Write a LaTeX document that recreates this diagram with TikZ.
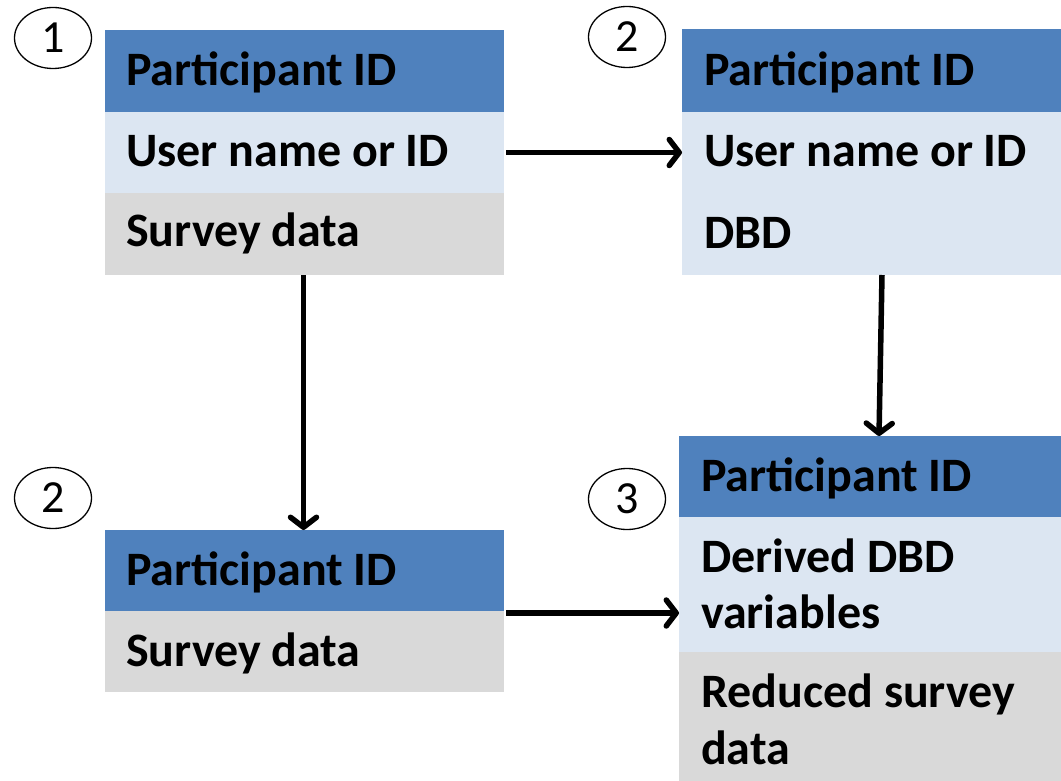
\documentclass[tikz,border=0pt]{standalone}
\usepackage{fontspec}
\setmainfont{Carlito}
\usetikzlibrary{arrows.meta,shapes.geometric}
\definecolor{hdr}{HTML}{4F81BD}
\definecolor{lite}{HTML}{DCE6F2}
\definecolor{greyrow}{HTML}{D9D9D9}

\begin{document}
\begin{tikzpicture}[x=1pt,y=-1pt,
  cell/.style={anchor=north west, inner sep=0pt, outer sep=0pt},
  txt/.style={anchor=base west, inner sep=0pt, font=\fontsize{48}{56}\selectfont\bfseries},
  num/.style={draw, ellipse, line width=1.3pt, minimum width=77pt, minimum height=61pt,
              inner sep=0pt, font=\fontsize{46}{52}\selectfont},
  flow/.style={line width=5.5pt,
              -{Straight Barb[length=10pt,width=26pt,line cap=round,line join=round]}}]
\useasboundingbox (0,0) rectangle (1061,781);

% table 1 (top left)
\node[cell, fill=hdr, minimum width=399pt, minimum height=82pt] (a1) at (105,30) {};
\node[cell, fill=lite, minimum width=399pt, minimum height=81pt] (a2) at (105,112) {};
\node[cell, fill=greyrow, minimum width=399pt, minimum height=82pt] (a3) at (105,193) {};
\node[txt] (ta1) at (126,86) {Participant ID};
\node[txt] (ta2) at (126,167) {User name or ID};
\node[txt] (ta3) at (126,247) {Survey data};

% table 2 (top right)
\node[cell, fill=hdr, minimum width=379pt, minimum height=83pt] (b1) at (682,29) {};
\node[cell, fill=lite, minimum width=379pt, minimum height=163pt] (b2) at (682,112) {};
\node[txt] (tb1) at (704,86) {Participant ID};
\node[txt] (tb2) at (704,167) {User name or ID};
\node[txt] (tb3) at (704,248) {DBD};

% table 2 (bottom left)
\node[cell, fill=hdr, minimum width=399pt, minimum height=81pt] (c1) at (105,530) {};
\node[cell, fill=greyrow, minimum width=399pt, minimum height=81pt] (c2) at (105,611) {};
\node[txt] (tc1) at (126,585) {Participant ID};
\node[txt] (tc2) at (126,666) {Survey data};

% table 3 (bottom right)
\node[cell, fill=hdr, minimum width=382pt, minimum height=81pt] (d1) at (679,436) {};
\node[cell, fill=lite, minimum width=382pt, minimum height=135pt] (d2) at (679,517) {};
\node[cell, fill=greyrow, minimum width=382pt, minimum height=130pt] (d3) at (679,652) {};
\node[txt] (td1) at (701,491) {Participant ID};
\node[txt] (td2) at (701,572) {Derived DBD};
\node[txt] (td3) at (701,628) {variables};
\node[txt] (td4) at (701,707) {Reduced survey};
\node[txt] (td5) at (701,764) {data};

% step numbers
\node[num] (n1) at (53,38) {1};
\node[num] (n2) at (627,37) {2};
\node[num] (n3) at (53,498) {2};
\node[num] (n4) at (627,499) {3};

% data flow
\coordinate (s1) at ([xshift=2pt]a2.east);
\coordinate (s2) at ([xshift=-1pt]a3.south);
\coordinate (s3) at ([xshift=10.5pt]b2.south);
\coordinate (s4) at ([xshift=2pt,yshift=-2pt]c1.south east);
\draw[flow] (s1) -- (b2.west |- s1);
\draw[flow] (s2) -- (c1.north -| s2);
\draw[flow] (s3) -- ([xshift=9pt]d1.north);
\draw[flow] (s4) -- (d2.west |- s4);
\end{tikzpicture}
\end{document}
